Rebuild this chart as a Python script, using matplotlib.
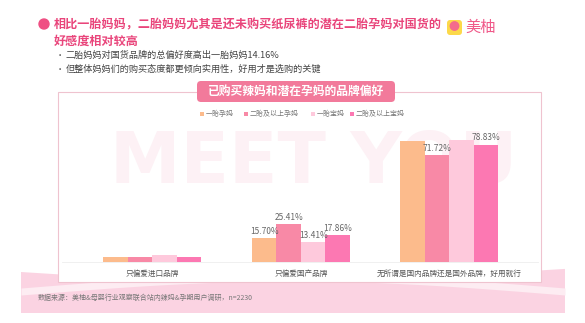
import numpy as np
import matplotlib
matplotlib.use('Agg')
from matplotlib import pyplot as plt
from matplotlib.patches import FancyBboxPatch, Rectangle, Circle, Polygon

plt.rcParams['font.family'] = ['Noto Sans CJK SC', 'DejaVu Sans']

# data
categories = ['只偏爱进口品牌', '只偏爱国产品牌', '无所谓是国内品牌还是国外品牌，好用就行']
series_names = ['一胎孕妈', '二胎及以上孕妈', '一胎宝妈', '二胎及以上宝妈']
s1 = [3.00, 15.70, 81.30]
s2 = [2.87, 25.41, 71.72]
s3 = [4.60, 13.41, 81.99]
s4 = [3.31, 17.86, 78.83]
show_label = [[False, True, False], [False, True, True], [False, True, False], [False, True, True]]
colors = ['#fcbb8c', '#f889a6', '#fec9dc', '#fc78b2']

title_lines = ['相比一胎妈妈，二胎妈妈尤其是还未购买纸尿裤的潜在二胎孕妈对国货的', '好感度相对较高']
bullets = ['二胎妈妈对国货品牌的总偏好度高出一胎妈妈14.16%', '但整体妈妈们的购买态度都更倾向实用性，好用才是选购的关键']
chart_title = '已购买辣妈和潜在孕妈的品牌偏好'
source = '数据来源：美柚&母婴行业观察联合站内辣妈&孕期用户调研，n=2230'

W, H = 585, 323
fig = plt.figure(figsize=(W / 100, H / 100), dpi=100)
fig.patch.set_facecolor('white')

# background layer in pixel coords
bg = fig.add_axes([0, 0, 1, 1])
bg.set_xlim(0, W)
bg.set_ylim(H, 0)
bg.axis('off')

# pink wave at the bottom
xs = np.linspace(21, 565, 200)
top = 272 + 10 * np.sin((xs - 21) / 544 * np.pi * 1.1)
bg.add_patch(Polygon(np.column_stack([np.r_[xs, xs[::-1]], np.r_[top, np.full(200, 313)]]),
                     closed=True, fc='#fbd3e2', ec='none'))
wave = 292 - 14 * np.sin((xs - 21) / 544 * np.pi)
bg.fill_between(xs, wave - 4, wave + 3, color='#fdecf2', lw=0)

# chart frame
bg.add_patch(Rectangle((58, 92), 483, 190, fc='white', ec='#efc3cf', lw=0.8))

# watermark
bg.text(110, 163, 'MEET YOU', fontsize=51, fontweight='bold', color='#fdf1f5',
        family='DejaVu Sans', ha='left', va='center')

# header
bg.add_patch(Circle((44, 24), 5, color='#ef4f83'))
bg.text(54, 25, title_lines[0], fontsize=8.7, fontweight='bold', color='#e9457b', va='center')
bg.text(54, 41.5, title_lines[1], fontsize=8.7, fontweight='bold', color='#e9457b', va='center')
for i, b in enumerate(bullets):
    y = 55 + i * 14
    bg.text(56, y, '•', fontsize=6, color='#555555', va='center')
    bg.text(66, y, b, fontsize=6.6, color='#444444', va='center')

# logo
bg.add_patch(FancyBboxPatch((447, 20), 15, 15, boxstyle='round,pad=0,rounding_size=3',
                            fc='#fcd94a', ec='none'))
bg.add_patch(Circle((454.5, 26), 4.2, color='#f46b8c'))
bg.text(465, 27.5, '美柚', fontsize=11, color='#f05a8a', va='center')

# chart title pill
bg.add_patch(FancyBboxPatch((197, 81), 198, 21, boxstyle='round,pad=0,rounding_size=4',
                            fc='#f27a9b', ec='none'))
bg.text(296, 91.5, chart_title, fontsize=8.5, fontweight='bold', color='white', ha='center', va='center')

# legend
lx = [200, 244, 311, 350]
for x, name, c in zip(lx, series_names, colors):
    bg.add_patch(Rectangle((x, 112), 3.5, 3.5, fc=c, ec='none'))
    bg.text(x + 6, 114, name, fontsize=5, color='#777777', va='center')

bg.text(38, 298, source, fontsize=5, color='#777777', va='center')

# bar chart
ax = fig.add_axes([62 / W, 1 - 261.7 / H, 476 / W, 131.7 / H])
ax.patch.set_alpha(0)
x = np.arange(len(categories))
bw = 0.165
data = [s1, s2, s3, s4]
for k, (vals, c) in enumerate(zip(data, colors)):
    pos = x + (k - 1.5) * bw
    ax.bar(pos, vals, width=bw, color=c)
    for p, v, f in zip(pos, vals, show_label[k]):
        if f:
            ax.text(p, v + 1.5, f'{v:.2f}%', ha='center', va='bottom', fontsize=6, color='#666666')
ax.set_xlim(-0.609, 2.596)
ax.set_ylim(0, 88.7)
ax.set_yticks([])
ax.set_xticks(x)
ax.set_xticklabels(categories, fontsize=5.5, color='#555555')
ax.tick_params(axis='x', length=0, pad=6)
for s in ['top', 'right', 'left']:
    ax.spines[s].set_visible(False)
ax.spines['bottom'].set_color('#eeeeee')
ax.spines['bottom'].set_linewidth(0.6)

fig.savefig('out.png', dpi=100)
